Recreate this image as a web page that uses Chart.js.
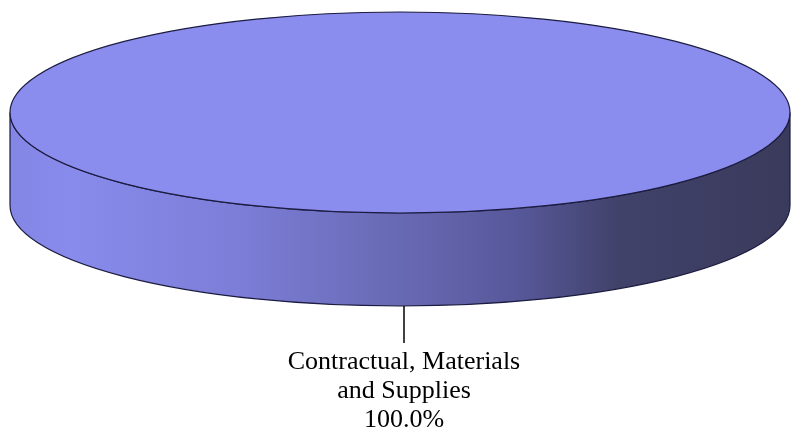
<!DOCTYPE html>
<html>
<head>
<meta charset="utf-8">
<script src="https://cdn.jsdelivr.net/npm/chart.js@4.4.1/dist/chart.umd.min.js"></script>
<style>
  html, body { margin: 0; padding: 0; background: #fff; }
  #wrap { width: 791px; height: 436px; }
</style>
</head>
<body>
<div id="wrap"><canvas id="myChart" width="791" height="436"></canvas></div>
<script>
var categories = ['Contractual, Materials and Supplies'];
var labelLines = ['Contractual, Materials', 'and Supplies'];
var values = [100.0];
var sliceColors = ['#8a8cee'];

var total = values.reduce(function (a, b) { return a + b; }, 0);
var DEPTH = 93;

// squash the pie into an ellipse and give it a side wall
var tilt = {
  id: 'tilt',
  beforeDatasetsDraw: function (chart) {
    var ctx = chart.ctx;
    var arc = chart.getDatasetMeta(0).data[0];
    var r = arc.outerRadius;
    var sx = (chart.chartArea.width / 2) / r;
    chart.$sx = sx;

    // side wall
    ctx.save();
    ctx.translate(arc.x, arc.y);
    ctx.scale(sx, 1);
    ctx.beginPath();
    ctx.moveTo(-r, 0);
    ctx.lineTo(-r, DEPTH);
    ctx.arc(0, DEPTH, r, Math.PI, 0, true);
    ctx.lineTo(r, 0);
    ctx.arc(0, 0, r, 0, Math.PI, false);
    ctx.closePath();
    ctx.restore();
    var g = ctx.createLinearGradient(arc.x - r * sx, 0, arc.x + r * sx, 0);
    g.addColorStop(0, '#8486e6');
    g.addColorStop(0.08, '#898bec');
    g.addColorStop(0.3, '#7b7dd6');
    g.addColorStop(0.5, '#6869b3');
    g.addColorStop(0.65, '#57589a');
    g.addColorStop(0.78, '#41426a');
    g.addColorStop(1, '#3a3a5c');
    ctx.fillStyle = g;
    ctx.fill();
    ctx.lineWidth = 1.2;
    ctx.strokeStyle = '#1c1c40';
    ctx.stroke();

    ctx.save();
    ctx.translate(arc.x, arc.y);
    ctx.scale(sx, 1);
    ctx.translate(-arc.x, -arc.y);
  },
  afterDatasetsDraw: function (chart) {
    var ctx = chart.ctx;
    ctx.restore();
    var arc = chart.getDatasetMeta(0).data[0];
    var r = arc.outerRadius;
    ctx.save();
    ctx.translate(arc.x, arc.y);
    ctx.scale(chart.$sx, 1);
    ctx.beginPath();
    ctx.arc(0, 0, r, 0, Math.PI * 2);
    ctx.restore();
    ctx.lineWidth = 1.2;
    ctx.strokeStyle = '#1c1c40';
    ctx.stroke();
  },
  afterDraw: function (chart) {
    var ctx = chart.ctx;
    var arc = chart.getDatasetMeta(0).data[0];
    var x = arc.x + 4;
    var yTop = arc.y + arc.outerRadius + DEPTH;
    ctx.save();
    ctx.strokeStyle = '#000';
    ctx.lineWidth = 1.5;
    ctx.beginPath();
    ctx.moveTo(x, yTop);
    ctx.lineTo(x, yTop + 37);
    ctx.stroke();
    ctx.fillStyle = '#000';
    ctx.font = '26px "Liberation Serif", "Times New Roman", serif';
    ctx.textAlign = 'center';
    ctx.textBaseline = 'alphabetic';
    var lines = labelLines.concat([(values[0] / total * 100).toFixed(1) + '%']);
    lines.forEach(function (t, i) {
      ctx.fillText(t, x, yTop + 63 + i * 29);
    });
    ctx.restore();
  }
};

var ctx = document.getElementById('myChart').getContext('2d');
var myChart = new Chart(ctx, {
  type: 'pie',
  data: {
    labels: categories,
    datasets: [{
      data: values,
      backgroundColor: sliceColors,
      borderWidth: 0,
      clip: false
    }]
  },
  options: {
    responsive: false,
    animation: false,
    events: [],
    layout: { padding: { top: 12, bottom: 223, left: 10, right: 1 } },
    plugins: {
      legend: { display: false },
      tooltip: { enabled: false },
      title: { display: false }
    }
  },
  plugins: [tilt]
});
</script>
</body>
</html>
